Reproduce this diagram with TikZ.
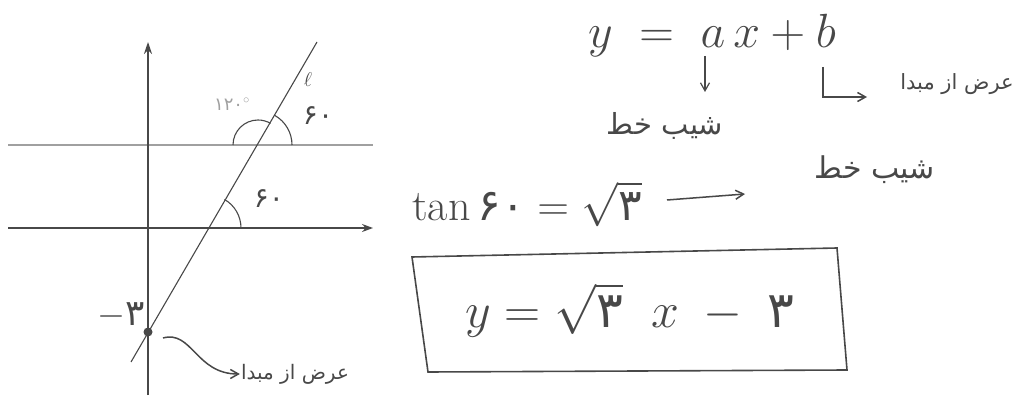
\RequirePackage{fix-cm}
\documentclass[tikz,border=0pt]{standalone}
\usepackage{amsmath}
\usepackage{fontspec}
\usepackage{tikz}
\usetikzlibrary{arrows.meta,positioning,calc}
\TeXXeTstate=1
\newfontfamily\arabicfont[Script=Arabic]{DejaVu Sans}
\definecolor{pen}{RGB}{72,72,72}
\definecolor{faint}{RGB}{160,160,160}
\newcommand{\fa}[1]{{\arabicfont\beginR #1\endR}}
\newcommand{\fd}[1]{\mbox{\arabicfont #1}}

\begin{document}
\begin{tikzpicture}[x=1pt,y=-1pt,
  ln/.style={draw=pen,line width=1.6pt},
  thinln/.style={draw=pen,line width=1.1pt},
  a/.style={-{Straight Barb[length=8pt,width=9pt]},draw=pen,line width=1.5pt},
  lbl/.style={text=pen,inner sep=1pt,font=\fontsize{20}{24}\selectfont},
  eq/.style={text=pen,inner sep=2pt}]
  \useasboundingbox (0,0) rectangle (1020,403);
  % axes and the parallel line
  \draw[ln,draw=faint] (8,145) -- (373,145);
  \draw[ln,-{Stealth[length=11pt,width=8pt]}] (8,228) -- (373,228);
  \draw[ln,-{Stealth[length=12pt,width=8pt]}] (148,395) -- (148,42);
  % line l
  \node[circle,fill=pen,inner sep=0pt,minimum size=9pt] (yint) at (148,332) {};
  \coordinate (lbot) at (131,362);
  \coordinate (ltop) at (317,42);
  \draw[thinln] (lbot) -- (ltop);
  \coordinate (P) at (258,145);
  \coordinate (Q) at (208,228);
  % angles
  \draw[thinln] (P) ++(34,0) arc[start angle=0,end angle=-60,radius=34];
  \draw[thinln] (P) ++(-25,0) arc[start angle=180,end angle=300,radius=25];
  \draw[thinln] (Q) ++(33,0) arc[start angle=0,end angle=-60,radius=33];
  \node[lbl] (ell) at (308,80) {$\ell$};
  \node[lbl,font=\fontsize{28}{32}\selectfont] (ang1) at (318,116) {\fd{۶۰}};
  \node[lbl,text=faint,font=\fontsize{18}{22}\selectfont] (ang2) at (232,104) {\fd{۱۲۰}$^{\circ}$};
  \node[lbl,font=\fontsize{28}{32}\selectfont] (ang3) at (269,199) {\fd{۶۰}};
  \node[lbl,font=\fontsize{36}{40}\selectfont] (minus3) at (121,316) {$-$\fd{۳}};
  % y-intercept note
  \node[lbl] (icpt2) at (295,374) {\fa{عرض از مبدا}};
  \draw[a] (163,338) .. controls (192,330) and (196,374) .. (icpt2.west);
  % right side
  \node[eq,font=\fontsize{48}{52}\selectfont] (yab) at (712,36) {$y\;=\;a\,x+b$};
  \node[lbl,font=\fontsize{29}{33}\selectfont] (slope1) at (665,126) {\fa{شیب خط}};
  \coordinate (adown) at (705,56);
  \draw[a,line width=1.2pt] (adown) -- (705,92);
  \node[lbl,font=\fontsize{21}{25}\selectfont] (icpt1) at (957,84) {\fa{عرض از مبدا}};
  \coordinate (bdown) at (823,67);
  \coordinate (bend) at (867,97);
  \draw[a] (bdown) |- (bend);
  \node[lbl,font=\fontsize{30}{34}\selectfont] (slope2) at (875,170) {\fa{شیب خط}};
  \node[eq,font=\fontsize{44}{48}\selectfont] (tan) at (527,204) {$\tan\fd{۶۰}=\sqrt{\fd{۳}}$};
  \draw[a] (667,200) -- (745,194);
  % result box
  \draw[ln] (412,257) -- (837,248) -- (847,370) -- (428,372) -- cycle;
  \node[eq,font=\fontsize{50}{56}\selectfont] (res) at (630,310) {$y=\sqrt{\fd{۳}}\;\;x\;-\;\fd{۳}$};
\end{tikzpicture}
\end{document}
